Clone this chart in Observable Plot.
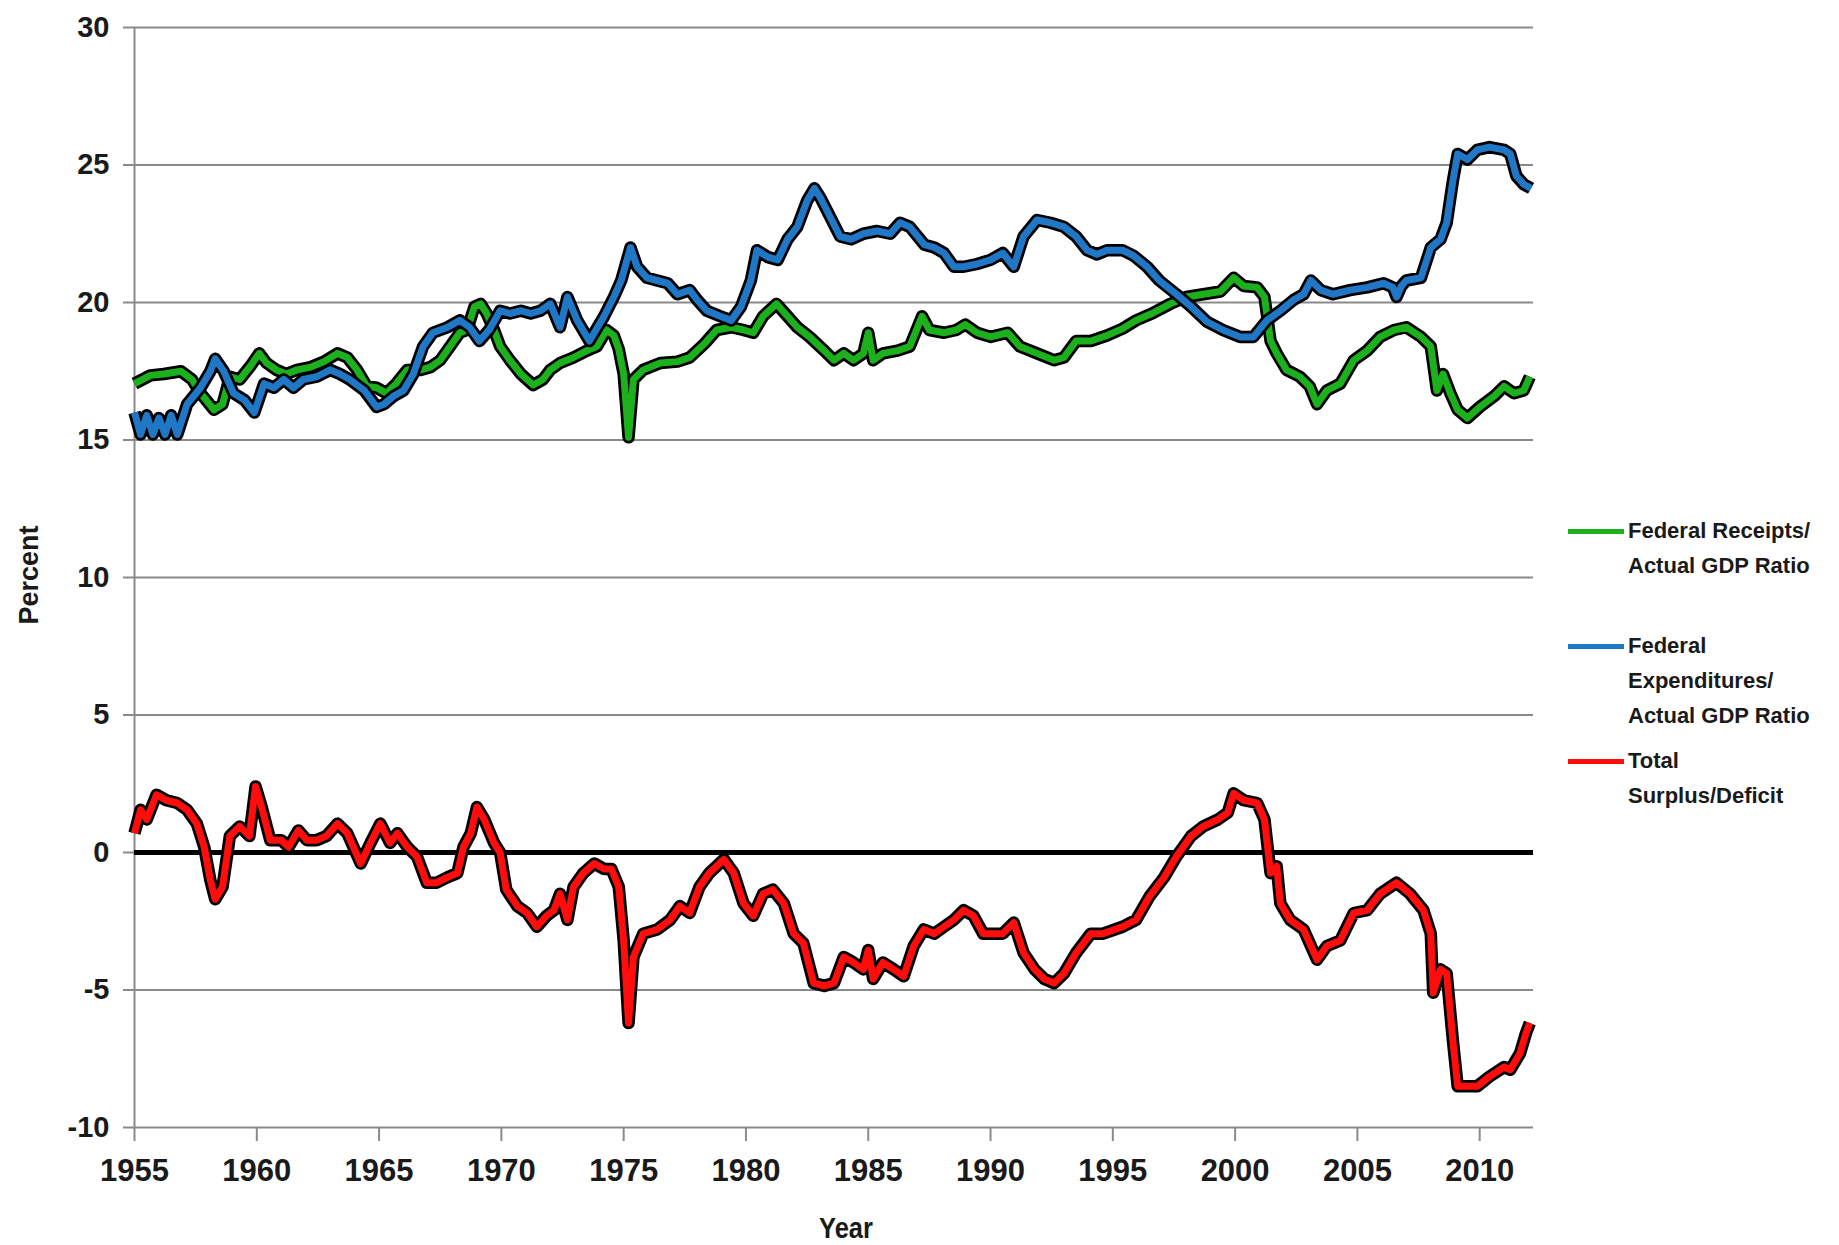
<!DOCTYPE html>
<html>
<head>
<meta charset="utf-8">
<script src="https://cdn.jsdelivr.net/npm/d3@7"></script>
<script src="https://cdn.jsdelivr.net/npm/@observablehq/plot@0.6"></script>
<style>
  html, body { margin: 0; padding: 0; background: #fff; }
  #wrap { position: relative; width: 1839px; height: 1245px; overflow: hidden; }
  .lbl { position: absolute; font-family: "Liberation Sans", Arial, sans-serif; font-weight: bold; color: #1a1a1a; white-space: nowrap; }
  .leg { position: absolute; font-family: "Liberation Sans", Arial, sans-serif; font-weight: bold; font-size: 22px; color: #1a1a1a; line-height: 35px; white-space: nowrap; }
  .swatch { position: absolute; height: 5px; width: 56px; }
</style>
</head>
<body>
<div id="wrap"></div>
<script>
// ---- Data ----
const xTicks = [1955, 1960, 1965, 1970, 1975, 1980, 1985, 1990, 1995, 2000, 2005, 2010];
const yTicks = [-10, -5, 0, 5, 10, 15, 20, 25, 30];

const seriesNames = ["Federal Receipts/\nActual GDP Ratio", "Federal\nExpenditures/\nActual GDP Ratio", "Total\nSurplus/Deficit"];

const recYears = [1955.0,1955.65,1956.2,1956.9,1957.35,1957.7,1958.25,1958.6,1958.9,1959.3,1959.75,1960.1,1960.4,1960.8,1961.2,1961.65,1962.2,1962.75,1963.3,1963.7,1964.1,1964.5,1964.9,1965.3,1965.7,1966.15,1966.7,1967.1,1967.5,1967.9,1968.3,1968.6,1968.9,1969.15,1969.4,1969.7,1969.95,1970.35,1970.8,1971.3,1971.7,1972.0,1972.4,1972.95,1973.5,1973.9,1974.3,1974.6,1974.8,1975.0,1975.2,1975.4,1975.8,1976.5,1977.2,1977.7,1978.3,1978.8,1979.4,1979.9,1980.3,1980.7,1981.25,1981.5,1982.1,1982.6,1983.2,1983.6,1984.0,1984.4,1984.8,1985.0,1985.2,1985.6,1986.2,1986.7,1987.2,1987.5,1988.1,1988.6,1988.97,1989.45,1990.0,1990.7,1991.2,1991.9,1992.6,1993.0,1993.5,1994.1,1994.76,1995.4,1995.95,1996.6,1997.35,1998.0,1998.7,1999.4,1999.94,2000.35,2000.9,2001.2,2001.45,2001.7,2002.1,2002.65,2003.05,2003.35,2003.75,2004.3,2004.85,2005.4,2005.93,2006.5,2007.0,2007.6,2008.0,2008.25,2008.5,2008.8,2009.1,2009.5,2010.0,2010.6,2011.0,2011.4,2011.8,2012.05];
const recValues = [17.05,17.35,17.4,17.5,17.2,16.7,16.1,16.3,17.3,17.2,17.7,18.15,17.8,17.55,17.4,17.55,17.65,17.85,18.15,18.0,17.55,16.95,16.9,16.7,17.05,17.55,17.55,17.65,17.9,18.4,18.9,19.0,19.85,19.95,19.6,19.0,18.4,17.9,17.4,17.0,17.2,17.55,17.8,18.0,18.25,18.4,19.0,18.8,18.3,17.4,15.1,17.2,17.55,17.8,17.85,18.0,18.5,19.0,19.1,19.0,18.9,19.5,19.95,19.7,19.1,18.75,18.25,17.9,18.15,17.9,18.15,18.9,17.9,18.15,18.25,18.4,19.5,19.0,18.9,19.0,19.2,18.9,18.75,18.9,18.4,18.15,17.9,18.0,18.6,18.6,18.8,19.05,19.35,19.6,19.95,20.2,20.3,20.4,20.9,20.6,20.55,20.2,18.6,18.15,17.55,17.3,16.95,16.3,16.8,17.05,17.9,18.25,18.75,19.0,19.1,18.75,18.4,16.8,17.4,16.7,16.1,15.8,16.2,16.6,16.95,16.7,16.8,17.3];

const expYears = [1955.0,1955.25,1955.5,1955.75,1956.0,1956.25,1956.5,1956.75,1957.15,1957.7,1958.1,1958.3,1958.65,1959.05,1959.5,1959.9,1960.3,1960.7,1961.1,1961.5,1961.9,1962.45,1963.0,1963.4,1963.8,1964.4,1964.9,1965.2,1965.6,1966.0,1966.4,1966.8,1967.2,1967.8,1968.3,1968.7,1969.1,1969.5,1969.95,1970.35,1970.8,1971.2,1971.6,1972.0,1972.4,1972.7,1973.1,1973.6,1974.2,1974.6,1974.9,1975.28,1975.55,1975.95,1976.37,1976.8,1977.2,1977.7,1978.0,1978.4,1978.95,1979.4,1979.8,1980.2,1980.45,1980.9,1981.3,1981.7,1982.1,1982.5,1982.8,1983.05,1983.45,1983.85,1984.3,1984.8,1985.36,1985.9,1986.3,1986.7,1987.3,1987.7,1988.1,1988.5,1988.9,1989.45,1990.0,1990.5,1990.95,1991.35,1991.9,1992.45,1993.0,1993.5,1993.95,1994.35,1994.76,1995.4,1995.85,1996.4,1996.9,1997.6,1998.2,1998.85,1999.5,2000.2,2000.75,2001.3,2001.85,2002.4,2002.8,2003.1,2003.5,2004.0,2004.7,2005.4,2006.07,2006.45,2006.6,2006.8,2007.0,2007.6,2008.0,2008.4,2008.65,2008.9,2009.1,2009.5,2009.9,2010.4,2011.0,2011.25,2011.5,2011.8,2012.1];
const expValues = [16.0,15.2,15.9,15.2,15.8,15.2,15.9,15.2,16.3,16.9,17.5,17.95,17.5,16.7,16.45,16.0,17.05,16.9,17.2,16.9,17.2,17.3,17.55,17.4,17.2,16.8,16.2,16.3,16.6,16.8,17.4,18.4,18.9,19.1,19.35,19.1,18.6,19.0,19.7,19.6,19.7,19.6,19.7,19.95,19.1,20.2,19.35,18.6,19.5,20.2,20.8,22.0,21.3,20.9,20.8,20.7,20.3,20.45,20.1,19.7,19.5,19.35,19.85,20.8,21.9,21.65,21.55,22.3,22.75,23.7,24.15,23.8,23.1,22.4,22.3,22.5,22.6,22.5,22.9,22.75,22.1,22.0,21.8,21.3,21.3,21.4,21.55,21.8,21.3,22.4,23.0,22.9,22.75,22.4,21.9,21.75,21.9,21.9,21.7,21.3,20.8,20.3,19.85,19.3,19.0,18.75,18.75,19.35,19.7,20.1,20.3,20.8,20.45,20.3,20.45,20.55,20.7,20.55,20.2,20.6,20.8,20.9,22.0,22.3,22.9,24.4,25.4,25.2,25.55,25.65,25.55,25.4,24.6,24.3,24.15];

const defYears = [1955.0,1955.25,1955.5,1955.9,1956.3,1956.75,1957.15,1957.55,1957.85,1958.1,1958.3,1958.6,1958.9,1959.3,1959.7,1959.95,1960.2,1960.55,1961.0,1961.3,1961.7,1962.05,1962.45,1962.85,1963.3,1963.7,1964.25,1964.65,1965.05,1965.45,1965.75,1966.15,1966.55,1966.95,1967.35,1967.8,1968.2,1968.45,1968.75,1969.0,1969.3,1969.7,1969.95,1970.2,1970.65,1971.05,1971.45,1971.85,1972.15,1972.4,1972.7,1972.95,1973.35,1973.8,1974.2,1974.5,1974.8,1975.0,1975.2,1975.4,1975.8,1976.37,1976.9,1977.3,1977.7,1978.1,1978.5,1979.1,1979.5,1979.9,1980.3,1980.7,1981.1,1981.55,1981.95,1982.35,1982.77,1983.2,1983.6,1984.0,1984.4,1984.8,1985.0,1985.2,1985.6,1986.04,1986.45,1986.86,1987.27,1987.7,1988.1,1988.5,1988.9,1989.3,1989.7,1990.1,1990.5,1990.95,1991.35,1991.8,1992.2,1992.6,1993.0,1993.5,1994.1,1994.6,1995.4,1995.95,1996.5,1997.1,1997.6,1998.2,1998.7,1999.3,1999.7,1999.94,2000.35,2000.9,2001.2,2001.45,2001.7,2001.85,2002.25,2002.8,2003.35,2003.75,2004.3,2004.85,2005.4,2005.93,2006.6,2007.15,2007.7,2008.0,2008.1,2008.4,2008.65,2008.9,2009.1,2009.6,2009.9,2010.4,2011.0,2011.25,2011.65,2011.9,2012.05];
const defValues = [0.7,1.55,1.2,2.1,1.9,1.8,1.55,1.05,0.2,-1.0,-1.7,-1.25,0.6,0.95,0.6,2.4,1.65,0.45,0.45,0.2,0.8,0.45,0.45,0.6,1.05,0.7,-0.4,0.35,1.05,0.35,0.7,0.2,-0.15,-1.1,-1.1,-0.9,-0.75,0.2,0.7,1.65,1.2,0.35,0.0,-1.35,-1.95,-2.2,-2.7,-2.3,-2.1,-1.5,-2.45,-1.25,-0.75,-0.4,-0.6,-0.6,-1.25,-3.2,-6.2,-3.8,-2.95,-2.8,-2.45,-1.95,-2.2,-1.25,-0.75,-0.25,-0.75,-1.85,-2.3,-1.5,-1.35,-1.85,-2.95,-3.3,-4.75,-4.85,-4.75,-3.8,-4.0,-4.25,-3.55,-4.6,-4.0,-4.25,-4.5,-3.4,-2.8,-2.95,-2.7,-2.45,-2.1,-2.3,-2.95,-2.95,-2.95,-2.55,-3.65,-4.25,-4.6,-4.75,-4.4,-3.65,-2.95,-2.95,-2.7,-2.45,-1.6,-0.9,-0.15,0.6,0.95,1.2,1.45,2.15,1.9,1.8,1.2,-0.75,-0.5,-1.85,-2.45,-2.8,-3.9,-3.4,-3.2,-2.2,-2.1,-1.5,-1.1,-1.5,-2.1,-2.95,-5.1,-4.25,-4.4,-6.8,-8.5,-8.5,-8.5,-8.15,-7.8,-7.9,-7.3,-6.55,-6.2];

const seriesColors = ["#1cb01c", "#1f77c6", "#ff0d0d"];

// ---- Build rows ----
const rows = (ys, vs) => ys.map((x, i) => ({x, y: vs[i]}));
const rec = rows(recYears, recValues);
const exp = rows(expYears, expValues);
const def = rows(defYears, defValues);

const boldFont = "'Liberation Sans', Arial, sans-serif";
const gridGray = "#8a8a8a";

const outlined = (data, color) => [
  Plot.line(data, {x: "x", y: "y", stroke: "#000", strokeWidth: 12.5, strokeLinejoin: "round", strokeLinecap: "butt"}),
  Plot.line(data, {x: "x", y: "y", stroke: color, strokeWidth: 7, strokeLinejoin: "round", strokeLinecap: "butt"})
];

const chart = Plot.plot({
  width: 1839,
  height: 1245,
  marginLeft: 134,
  marginRight: 306,
  marginTop: 27,
  marginBottom: 118,
  style: {background: "#fff", overflow: "visible"},
  x: {domain: [1955, 2012.2]},
  y: {domain: [-10, 30]},
  marks: [
    Plot.ruleY(yTicks, {stroke: gridGray, strokeWidth: 2}),
    Plot.ruleX([1955], {stroke: gridGray, strokeWidth: 2}),
    Plot.axisY({ticks: yTicks, tickSize: 11, tickPadding: 14, tickFormat: d => String(d), stroke: gridGray, strokeWidth: 2, strokeOpacity: 1,
      fill: "#1a1a1a", fontSize: 29, fontWeight: "bold", fontFamily: boldFont, label: null}),
    Plot.axisX({ticks: xTicks, tickSize: 14, tickPadding: 17, tickFormat: d => String(d), stroke: gridGray, strokeWidth: 2, strokeOpacity: 1,
      fill: "#1a1a1a", fontSize: 31, fontWeight: "bold", fontFamily: boldFont, label: null, ariaLabel: "x-axis tick label"}),
    Plot.ruleY([0], {stroke: "#000", strokeWidth: 5}),
    ...outlined(rec, seriesColors[0]),
    ...outlined(exp, seriesColors[1]),
    ...outlined(def, seriesColors[2])
  ]
});

const wrap = document.getElementById("wrap");
wrap.appendChild(chart);

// condense the x tick labels horizontally (the original uses a narrow face)
d3.select(chart).selectAll("g[aria-label='x-axis tick label'] text").each(function() {
  const t = this.getAttribute("transform") || "";
  this.setAttribute("transform", t + " scale(0.8,1)");
});

// Axis titles
const yl = document.createElement("div");
yl.className = "lbl";
yl.textContent = "Percent";
yl.style.cssText += "font-size:27px;left:29px;top:575px;transform:translate(-50%,-50%) rotate(-90deg);";
wrap.appendChild(yl);

const xl = document.createElement("div");
xl.className = "lbl";
xl.textContent = "Year";
xl.style.cssText += "font-size:30px;left:846px;top:1228px;transform:translate(-50%,-50%) scaleX(0.85);";
wrap.appendChild(xl);

// Legend
const legTops = [513, 628, 743];
seriesNames.forEach((name, i) => {
  const sw = document.createElement("div");
  sw.className = "swatch";
  sw.style.left = "1568px";
  sw.style.top = (legTops[i] + 16) + "px";
  sw.style.background = seriesColors[i];
  wrap.appendChild(sw);
  const t = document.createElement("div");
  t.className = "leg";
  t.style.left = "1628px";
  t.style.top = legTops[i] + "px";
  t.innerHTML = name.split("\n").join("<br>");
  wrap.appendChild(t);
});
</script>
</body>
</html>
